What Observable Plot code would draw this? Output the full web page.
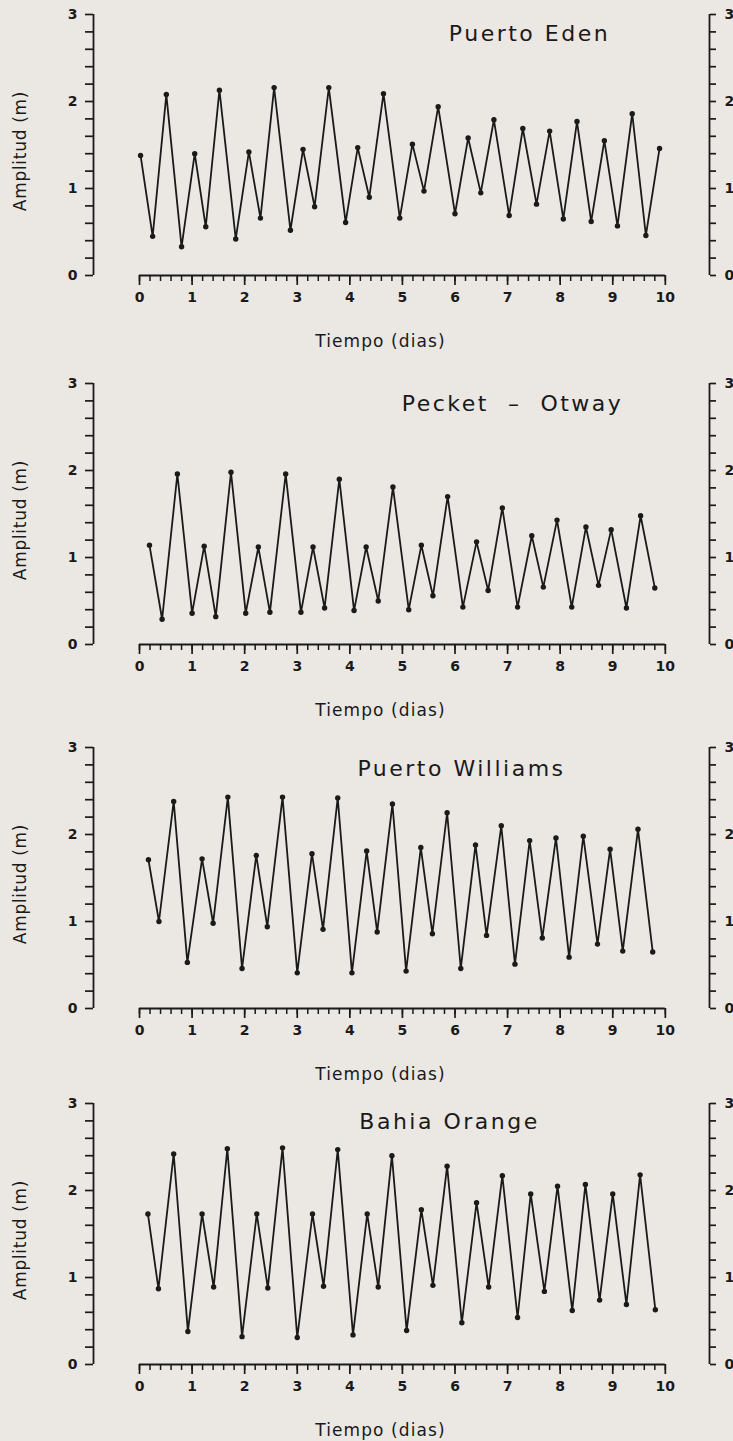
<!DOCTYPE html>
<html>
<head>
<meta charset="utf-8">
<script src="https://cdn.jsdelivr.net/npm/d3@7"></script>
<script src="https://cdn.jsdelivr.net/npm/@observablehq/plot@0.6"></script>
<style>
  html, body { margin: 0; padding: 0; overflow: hidden; background: #ebe7e2; }
  #wrap { position: relative; width: 733px; height: 1441px; }
  #wrap svg { position: absolute; left: 0; }
</style>
</head>
<body>
<div id="wrap"></div>
<script>
// ---------- data ----------
const stations = ["Puerto Eden", "Pecket  –  Otway", "Puerto Williams", "Bahia Orange"];

const edenT = [0.02,0.25,0.51,0.80,1.05,1.26,1.52,1.83,2.08,2.30,2.56,2.87,3.11,3.33,3.60,3.92,4.15,4.37,4.64,4.95,5.19,5.41,5.68,6.00,6.25,6.49,6.74,7.03,7.29,7.55,7.80,8.06,8.32,8.59,8.84,9.09,9.37,9.63,9.89];
const edenA = [1.38,0.45,2.08,0.33,1.40,0.56,2.13,0.42,1.42,0.66,2.16,0.52,1.45,0.79,2.16,0.61,1.47,0.90,2.09,0.66,1.51,0.97,1.94,0.71,1.58,0.95,1.79,0.69,1.69,0.82,1.66,0.65,1.77,0.62,1.55,0.57,1.86,0.46,1.46];

const pecketT = [0.19,0.43,0.72,1.00,1.23,1.45,1.74,2.02,2.26,2.48,2.78,3.07,3.30,3.52,3.80,4.08,4.31,4.54,4.82,5.12,5.36,5.58,5.86,6.15,6.41,6.63,6.90,7.19,7.46,7.68,7.94,8.22,8.49,8.73,8.97,9.26,9.53,9.80];
const pecketA = [1.14,0.29,1.96,0.36,1.13,0.32,1.98,0.36,1.12,0.37,1.96,0.37,1.12,0.42,1.90,0.39,1.12,0.50,1.81,0.40,1.14,0.56,1.70,0.43,1.18,0.62,1.57,0.43,1.25,0.66,1.43,0.43,1.35,0.68,1.32,0.42,1.48,0.65];

const williamsT = [0.17,0.37,0.65,0.91,1.19,1.40,1.68,1.95,2.22,2.43,2.72,3.00,3.28,3.49,3.77,4.04,4.32,4.52,4.81,5.07,5.35,5.57,5.85,6.11,6.39,6.60,6.88,7.14,7.42,7.66,7.92,8.17,8.44,8.71,8.95,9.19,9.48,9.76];
const williamsA = [1.71,1.00,2.38,0.53,1.72,0.98,2.43,0.46,1.76,0.94,2.43,0.41,1.78,0.91,2.42,0.41,1.81,0.88,2.35,0.43,1.85,0.86,2.25,0.46,1.88,0.84,2.10,0.51,1.93,0.81,1.96,0.59,1.98,0.74,1.83,0.66,2.06,0.65];

const orangeT = [0.16,0.36,0.65,0.92,1.19,1.41,1.67,1.95,2.23,2.44,2.72,3.00,3.29,3.50,3.77,4.06,4.33,4.54,4.80,5.08,5.36,5.58,5.85,6.13,6.41,6.64,6.90,7.19,7.44,7.70,7.95,8.23,8.48,8.75,9.00,9.26,9.52,9.81];
const orangeA = [1.73,0.87,2.42,0.38,1.73,0.89,2.48,0.32,1.73,0.88,2.49,0.31,1.73,0.90,2.47,0.34,1.73,0.89,2.40,0.39,1.78,0.91,2.28,0.48,1.86,0.89,2.17,0.54,1.96,0.84,2.05,0.62,2.07,0.74,1.96,0.69,2.18,0.63];

const xMajorTicks = [0,1,2,3,4,5,6,7,8,9,10];
const xMinorTicks = [0,0.2,0.4,0.6,0.8,1,1.2,1.4,1.6,1.8,2,2.2,2.4,2.6,2.8,3,3.2,3.4,3.6,3.8,4,4.2,4.4,4.6,4.8,5,5.2,5.4,5.6,5.8,6,6.2,6.4,6.6,6.8,7,7.2,7.4,7.6,7.8,8,8.2,8.4,8.6,8.8,9,9.2,9.4,9.6,9.8,10];
const yTicks = [0,0.2,0.4,0.6,0.8,1,1.2,1.4,1.6,1.8,2,2.2,2.4,2.6,2.8,3];
const yMajorTicks = [0,1,2,3];
const xLabel = "Tiempo (dias)";
const yLabel = "Amplitud (m)";

// ---------- layout ----------
const series = [[edenT, edenA], [pecketT, pecketA], [williamsT, williamsA], [orangeT, orangeA]];
const panelTop = [0, 369, 733, 1089];
const titleDx = [436, 419, 368, 356];
const titleDy = [26, 27, 28, 25];
const ink = "#1a1a1a";
const xDomain = [-0.875, 10.84];
const yDomain = [0, 3];
const spacing = {title: "2.5px", x: "1.1px", y: "0.7px"};

const wrap = document.getElementById("wrap");

series.forEach(([T, A], i) => {
  const data = T.map((t, k) => ({t, a: A[k]}));
  const chart = Plot.plot({
    width: 733,
    height: 365,
    marginTop: 14,
    marginBottom: 90,
    marginLeft: 93,
    marginRight: 24,
    style: {background: "transparent", fontFamily: "'DejaVu Sans', sans-serif", color: ink, overflow: "visible"},
    x: {domain: xDomain},
    y: {domain: yDomain},
    marks: [
      // left & right y axis lines
      Plot.ruleX(xDomain, {y1: yDomain[0], y2: yDomain[1], stroke: ink, strokeWidth: 1.8}),
      Plot.axisY({anchor: "left", ticks: yTicks, tickSize: 8, tickPadding: 8, strokeWidth: 1.7,
        tickFormat: d => yMajorTicks.includes(d) ? String(d) : "", fontSize: 14, fontWeight: "bold", label: null}),
      Plot.axisY({anchor: "right", ticks: yTicks, tickSize: 6, tickPadding: 9, strokeWidth: 1.7,
        tickFormat: d => yMajorTicks.includes(d) ? String(d) : "", fontSize: 14, fontWeight: "bold", label: null}),
      // x axis line + ticks
      Plot.ruleY([yDomain[0]], {x1: d3.min(xMajorTicks), x2: d3.max(xMajorTicks), stroke: ink, strokeWidth: 1.8}),
      Plot.axisX({ticks: xMinorTicks, tickSize: 6, tickFormat: () => "", strokeWidth: 1.5, label: null}),
      Plot.axisX({ticks: xMajorTicks, tickSize: 10, tickPadding: 7, strokeWidth: 1.7, fontSize: 14, fontWeight: "bold", label: null}),
      // axis labels
      Plot.text([xLabel], {frameAnchor: "bottom-left", dx: 287, dy: 71, textAnchor: "middle", lineAnchor: "bottom",
        fontSize: 17, fill: ink}),
      Plot.text([yLabel], {frameAnchor: "left", dx: -73, dy: 6, rotate: -90, textAnchor: "middle", lineAnchor: "middle",
        fontSize: 17, fill: ink}),
      // title
      Plot.text([stations[i]], {frameAnchor: "top-left", dx: titleDx[i], dy: titleDy[i], textAnchor: "middle", lineAnchor: "bottom",
        fontSize: 22, fill: ink}),
      // series
      Plot.line(data, {x: "t", y: "a", stroke: ink, strokeWidth: 1.8}),
      Plot.dot(data, {x: "t", y: "a", r: 2.7, fill: ink, stroke: "none"})
    ]
  });
  chart.querySelectorAll("text").forEach(el => {
    const s = el.textContent;
    const ls = s === stations[i] ? spacing.title : s === xLabel ? spacing.x : s === yLabel ? spacing.y : null;
    if (ls) { el.setAttribute("letter-spacing", ls); el.style.letterSpacing = ls; }
  });
  chart.style.top = panelTop[i] + "px";
  wrap.appendChild(chart);
});
</script>
</body>
</html>
